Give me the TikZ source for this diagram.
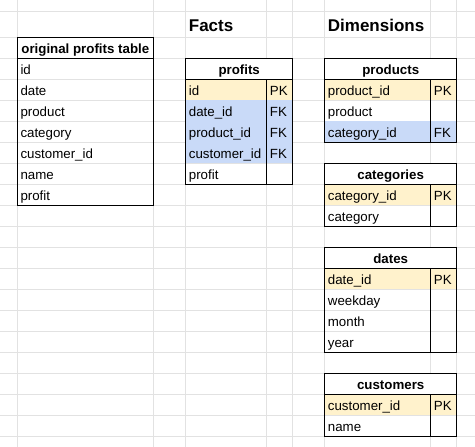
\documentclass[tikz,border=0pt]{standalone}
\usepackage{fontspec}
\setmainfont{Liberation Sans}
\usepackage{tikz}
\usetikzlibrary{calc}
\definecolor{pkyellow}{HTML}{FFF2CC}
\definecolor{fkblue}{HTML}{C9DAF8}
\definecolor{sheetgrid}{HTML}{E2E2E2}
\tikzset{
         gridline/.style={draw=sheetgrid,line width=1pt},
         tableline/.style={draw=black,line width=1.1pt},
         celltext/.style={anchor=base west,inner sep=0pt,font=\fontsize{13.3}{16}\selectfont},
         headtext/.style={anchor=base,inner sep=0pt,font=\fontsize{13.3}{16}\selectfont\bfseries},
         titletext/.style={anchor=base west,inner sep=0pt,font=\fontsize{17}{20}\selectfont\bfseries}
        }

\begin{document}
\begin{tikzpicture}[x=1pt,y=-1pt]
\useasboundingbox (0,0) rectangle (475,447);
\fill[white] (0,0) rectangle (475,447);

%sheet grid
\draw[gridline] (17.3,0)--(17.3,447) (153.3,0)--(153.3,447) (185.7,0)--(185.7,447)
(266.7,0)--(266.7,447) (292.7,0)--(292.7,447) (324.7,0)--(324.7,447)
(430.7,0)--(430.7,447) (456.7,0)--(456.7,447);
\draw[gridline] (0,11.7)--(475,11.7) (0,37.3)--(475,37.3) (0,58.3)--(475,58.3)
(0,79.3)--(475,79.3) (0,100.3)--(475,100.3) (0,121.3)--(475,121.3)
(0,142.3)--(475,142.3) (0,163.3)--(475,163.3) (0,184.3)--(475,184.3)
(0,205.3)--(475,205.3) (0,226.3)--(475,226.3) (0,247.3)--(475,247.3)
(0,268.3)--(475,268.3) (0,289.3)--(475,289.3) (0,310.3)--(475,310.3)
(0,331.3)--(475,331.3) (0,352.3)--(475,352.3) (0,373.3)--(475,373.3)
(0,394.3)--(475,394.3) (0,415.3)--(475,415.3) (0,436.3)--(475,436.3);

%cell fills
\fill[white] (17.3,37.3) rectangle (153.3,58.3);
\fill[white] (185.7,58.3) rectangle (292.7,79.3);
\fill[white] (324.7,58.3) rectangle (456.7,79.3);
\fill[white] (324.7,163.3) rectangle (456.7,184.3);
\fill[white] (324.7,247.3) rectangle (456.7,268.3);
\fill[white] (324.7,373.3) rectangle (456.7,394.3);
\fill[pkyellow] (185.7,79.3) rectangle (292.7,100.3);
\fill[fkblue] (185.7,100.3) rectangle (292.7,163.3);
\fill[pkyellow] (324.7,79.3) rectangle (456.7,100.3);
\fill[fkblue] (324.7,121.3) rectangle (456.7,142.3);
\fill[pkyellow] (324.7,184.3) rectangle (456.7,205.3);
\fill[pkyellow] (324.7,268.3) rectangle (456.7,289.3);
\fill[pkyellow] (324.7,394.3) rectangle (456.7,415.3);

%table borders
\draw[tableline] (17.3,37.3) rectangle (153.3,205.3) (17.3,58.3)--(153.3,58.3); %original
\draw[tableline] (185.7,58.3) rectangle (292.7,184.3) (185.7,79.3)--(292.7,79.3)
(266.7,79.3)--(266.7,184.3); %profits
\draw[tableline] (324.7,58.3) rectangle (456.7,142.3) (324.7,79.3)--(456.7,79.3)
(430.7,79.3)--(430.7,142.3); %products
\draw[tableline] (324.7,163.3) rectangle (456.7,226.3) (324.7,184.3)--(456.7,184.3)
(430.7,184.3)--(430.7,226.3); %categories
\draw[tableline] (324.7,247.3) rectangle (456.7,352.3) (324.7,268.3)--(456.7,268.3)
(430.7,268.3)--(430.7,352.3); %dates
\draw[tableline] (324.7,373.3) rectangle (456.7,436.3) (324.7,394.3)--(456.7,394.3)
(430.7,394.3)--(430.7,436.3); %customers

%titles
\node[titletext] (facts) at (188.7,31.5){Facts};
\node[titletext] (dimensions) at (327.7,31.5){Dimensions};

%original profits table
\node[headtext] (origHead) at (85.3,53.3){original profits table};
\node[celltext] (origId) at (20.3,74.3){id};
\node[celltext] (origDate) at (20.3,95.3){date};
\node[celltext] (origProduct) at (20.3,116.3){product};
\node[celltext] (origCategory) at (20.3,137.3){category};
\node[celltext] (origCustomer) at (20.3,158.3){customer\_id};
\node[celltext] (origName) at (20.3,179.3){name};
\node[celltext] (origProfit) at (20.3,200.3){profit};

%profits
\node[headtext] (profitsHead) at (239.2,74.3){profits};
\node[celltext] (profitsId) at (188.7,95.3){id};
\node[celltext] (profitsDate) at (188.7,116.3){date\_id};
\node[celltext] (profitsProduct) at (188.7,137.3){product\_id};
\node[celltext] (profitsCustomer) at (188.7,158.3){customer\_id};
\node[celltext] (profitsProfit) at (188.7,179.3){profit};
\node[celltext] (profitsIdKey) at (269.7,95.3){PK};
\node[celltext] (profitsDateKey) at (269.7,116.3){FK};
\node[celltext] (profitsProductKey) at (269.7,137.3){FK};
\node[celltext] (profitsCustomerKey) at (269.7,158.3){FK};

%products
\node[headtext] (productsHead) at (390.7,74.3){products};
\node[celltext] (productsId) at (327.7,95.3){product\_id};
\node[celltext] (productsName) at (327.7,116.3){product};
\node[celltext] (productsCategory) at (327.7,137.3){category\_id};
\node[celltext] (productsIdKey) at (433.7,95.3){PK};
\node[celltext] (productsCategoryKey) at (433.7,137.3){FK};

%categories
\node[headtext] (categoriesHead) at (390.7,179.3){categories};
\node[celltext] (categoriesId) at (327.7,200.3){category\_id};
\node[celltext] (categoriesName) at (327.7,221.3){category};
\node[celltext] (categoriesIdKey) at (433.7,200.3){PK};

%dates
\node[headtext] (datesHead) at (390.7,263.3){dates};
\node[celltext] (datesId) at (327.7,284.3){date\_id};
\node[celltext] (datesWeekday) at (327.7,305.3){weekday};
\node[celltext] (datesMonth) at (327.7,326.3){month};
\node[celltext] (datesYear) at (327.7,347.3){year};
\node[celltext] (datesIdKey) at (433.7,284.3){PK};

%customers
\node[headtext] (customersHead) at (390.7,389.3){customers};
\node[celltext] (customersId) at (327.7,410.3){customer\_id};
\node[celltext] (customersName) at (327.7,431.3){name};
\node[celltext] (customersIdKey) at (433.7,410.3){PK};
\end{tikzpicture}
\end{document}
